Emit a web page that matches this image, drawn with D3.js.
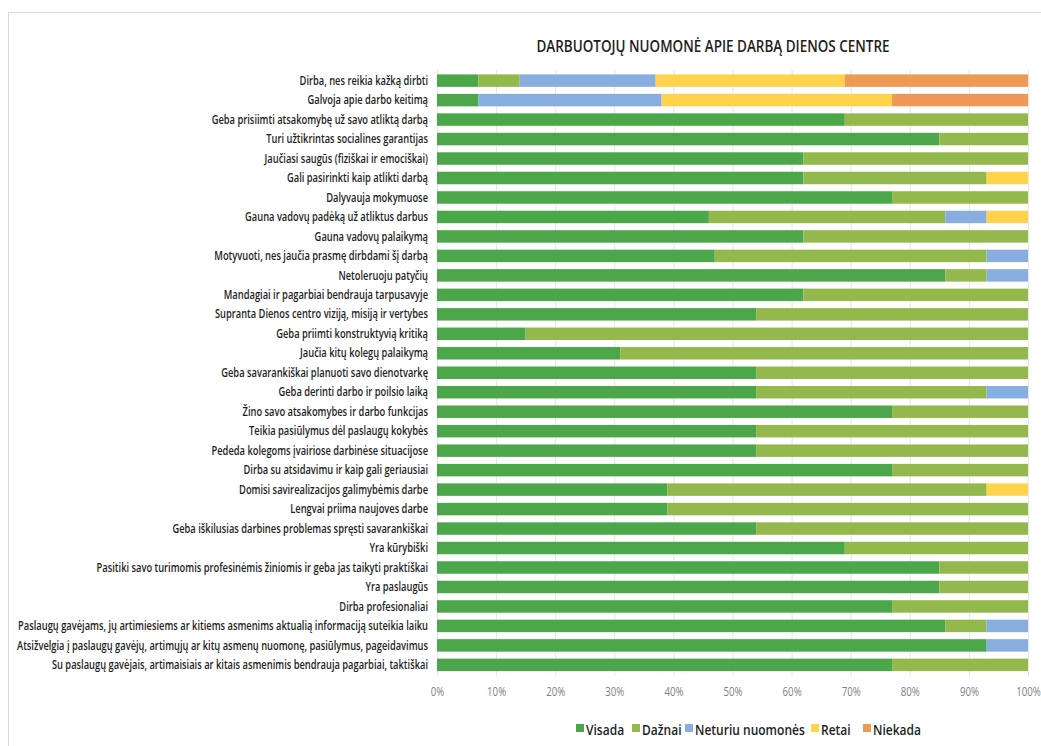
<!DOCTYPE html>
<html>
<head>
<meta charset="utf-8">
<script src="https://cdn.jsdelivr.net/npm/d3@7"></script>
<style>
  body { margin: 0; background: #fff; }
  text { font-family: "Open Sans", "Noto Sans", sans-serif; }
</style>
</head>
<body>
<div id="chart"></div>
<script>
// categories, top to bottom
const categories = [
  "Dirba, nes reikia kažką dirbti",
  "Galvoja apie darbo keitimą",
  "Geba prisiimti atsakomybę už savo atliktą darbą",
  "Turi užtikrintas socialines garantijas",
  "Jaučiasi saugūs (fiziškai ir emociškai)",
  "Gali pasirinkti kaip atlikti darbą",
  "Dalyvauja mokymuose",
  "Gauna vadovų padėką už atliktus darbus",
  "Gauna vadovų palaikymą",
  "Motyvuoti, nes jaučia prasmę dirbdami šį darbą",
  "Netoleruoju patyčių",
  "Mandagiai ir pagarbiai bendrauja tarpusavyje",
  "Supranta Dienos centro viziją, misiją ir vertybes",
  "Geba priimti konstruktyvią kritiką",
  "Jaučia kitų kolegų palaikymą",
  "Geba savarankiškai planuoti savo dienotvarkę",
  "Geba derinti darbo ir poilsio laiką",
  "Žino savo atsakomybes ir darbo funkcijas",
  "Teikia pasiūlymus dėl paslaugų kokybės",
  "Pededa kolegoms įvairiose darbinėse situacijose",
  "Dirba su atsidavimu ir kaip gali geriausiai",
  "Domisi savirealizacijos galimybėmis darbe",
  "Lengvai priima naujoves darbe",
  "Geba iškilusias darbines problemas spręsti savarankiškai",
  "Yra kūrybiški",
  "Pasitiki savo turimomis profesinėmis žiniomis ir geba jas taikyti praktiškai",
  "Yra paslaugūs",
  "Dirba profesionaliai",
  "Paslaugų gavėjams, jų artimiesiems ar kitiems asmenims aktualią informaciją suteikia laiku",
  "Atsižvelgia į paslaugų gavėjų, artimųjų ar kitų asmenų nuomonę, pasiūlymus, pageidavimus",
  "Su paslaugų gavėjais, artimaisiais ar kitais asmenimis bendrauja pagarbiai, taktiškai"
];

// series values (%), same order as categories
const visada  = [7, 7, 69, 85, 62, 62, 77, 46, 62, 47, 86, 62, 54, 15, 31, 54, 54, 77, 54, 54, 77, 39, 39, 54, 69, 85, 85, 77, 86, 93, 77];
const daznai  = [7, 0, 31, 15, 38, 31, 23, 40, 38, 46, 7, 38, 46, 85, 69, 46, 39, 23, 46, 46, 23, 54, 61, 46, 31, 15, 15, 23, 7, 0, 23];
const neturiu = [23, 31, 0, 0, 0, 0, 0, 7, 0, 7, 7, 0, 0, 0, 0, 0, 7, 0, 0, 0, 0, 0, 0, 0, 0, 0, 0, 0, 7, 7, 0];
const retai   = [32, 39, 0, 0, 0, 7, 0, 7, 0, 0, 0, 0, 0, 0, 0, 0, 0, 0, 0, 0, 0, 7, 0, 0, 0, 0, 0, 0, 0, 0, 0];
const niekada = [31, 23, 0, 0, 0, 0, 0, 0, 0, 0, 0, 0, 0, 0, 0, 0, 0, 0, 0, 0, 0, 0, 0, 0, 0, 0, 0, 0, 0, 0, 0];

const seriesNames = ["Visada", "Dažnai", "Neturiu nuomonės", "Retai", "Niekada"];
const seriesColors = ["#4ca64a", "#93b84c", "#88aee0", "#ffd34c", "#ec9a55"];
const xTicks = [0, 10, 20, 30, 40, 50, 60, 70, 80, 90, 100];
const title = "DARBUOTOJŲ NUOMONĖ APIE DARBĄ DIENOS CENTRE";

const width = 1041, height = 746;
const margin = {top: 70, left: 437, right: 13, bottom: 70};

const svg = d3.select("#chart").append("svg")
  .attr("width", width)
  .attr("height", height);

// squeeze text horizontally, the reference uses a narrow font
function squeeze(sel, k) {
  sel.each(function () {
    const len = this.getComputedTextLength();
    d3.select(this)
      .attr("textLength", len * k)
      .attr("lengthAdjust", "spacingAndGlyphs");
  });
}

// chart frame
svg.append("rect")
  .attr("x", 8.5).attr("y", 12.5)
  .attr("width", 1100).attr("height", 800)
  .attr("fill", "none")
  .attr("stroke", "#d9d9d9");

const table = categories.map((c, i) => ({
  cat: c,
  "Visada": visada[i], "Dažnai": daznai[i], "Neturiu nuomonės": neturiu[i],
  "Retai": retai[i], "Niekada": niekada[i]
}));

const x = d3.scaleLinear().domain([0, 100]).range([margin.left, 1028]);
const y = d3.scaleBand().domain(categories).range([70.5, 675]).paddingInner(0.36).paddingOuter(0.2);
const color = d3.scaleOrdinal().domain(seriesNames).range(seriesColors);

// gridlines
svg.append("g")
  .selectAll("line")
  .data(xTicks)
  .join("line")
  .attr("x1", d => x(d) + 0.5).attr("x2", d => x(d) + 0.5)
  .attr("y1", 70).attr("y2", 676)
  .attr("stroke", "#e6e6e6");

const stacked = d3.stack().keys(seriesNames)(table);

svg.append("g")
  .selectAll("g")
  .data(stacked)
  .join("g")
  .attr("fill", d => color(d.key))
  .selectAll("rect")
  .data(d => d)
  .join("rect")
  .attr("x", d => x(d[0]))
  .attr("y", d => y(d.data.cat))
  .attr("width", d => x(d[1]) - x(d[0]))
  .attr("height", y.bandwidth());

// category labels
const yAxis = svg.append("g")
  .attr("transform", `translate(${margin.left},0)`)
  .call(d3.axisLeft(y).tickSize(0).tickPadding(9));
yAxis.select(".domain").remove();
const yLabels = yAxis.selectAll("text")
  .attr("font-family", "'Open Sans', sans-serif")
  .attr("font-size", 13)
  .attr("font-weight", 600)
  .attr("fill", "#1e1e1e");

// find the factor that makes the longest label as wide as in the reference
let maxLen = 0;
yLabels.each(function () { maxLen = Math.max(maxLen, this.getComputedTextLength()); });
const k = 411 / maxLen;
squeeze(yLabels, k);

// x axis
const xAxis = svg.append("g")
  .attr("transform", "translate(0,676)")
  .call(d3.axisBottom(x).tickValues(xTicks).tickFormat(d => d + "%").tickSize(0).tickPadding(10));
xAxis.select(".domain").remove();
const xLabels = xAxis.selectAll("text")
  .attr("font-family", "'Open Sans', sans-serif")
  .attr("font-size", 13.5)
  .attr("fill", "#7f7f7f");
squeeze(xLabels, k);

// title
const titleText = svg.append("text")
  .attr("x", 713).attr("y", 52)
  .attr("text-anchor", "middle")
  .attr("font-size", 15.5)
  .attr("font-weight", 600)
  .attr("fill", "#1e1e1e")
  .text(title);
titleText.attr("textLength", 353).attr("lengthAdjust", "spacingAndGlyphs");

// legend
const legendX = [576, 632, 685, 811, 863];
const items = svg.append("g")
  .selectAll("g")
  .data(seriesNames)
  .join("g")
  .attr("transform", (d, i) => `translate(${legendX[i]},729)`);
items.append("rect")
  .attr("x", 0).attr("y", -5)
  .attr("width", 8).attr("height", 8)
  .attr("fill", d => color(d));
const legendText = items.append("text")
  .attr("font-size", 15)
  .attr("font-weight", 600)
  .attr("fill", "#1e1e1e")
  .text(d => d);
// the widest entry should span about 110 px, as in the reference
let nLen = 0;
legendText.each(function () { nLen = Math.max(nLen, this.getComputedTextLength()); });
const kl = 110 / nLen;
legendText.attr("transform", `translate(10,5.5) scale(${kl},1)`);
</script>
</body>
</html>
